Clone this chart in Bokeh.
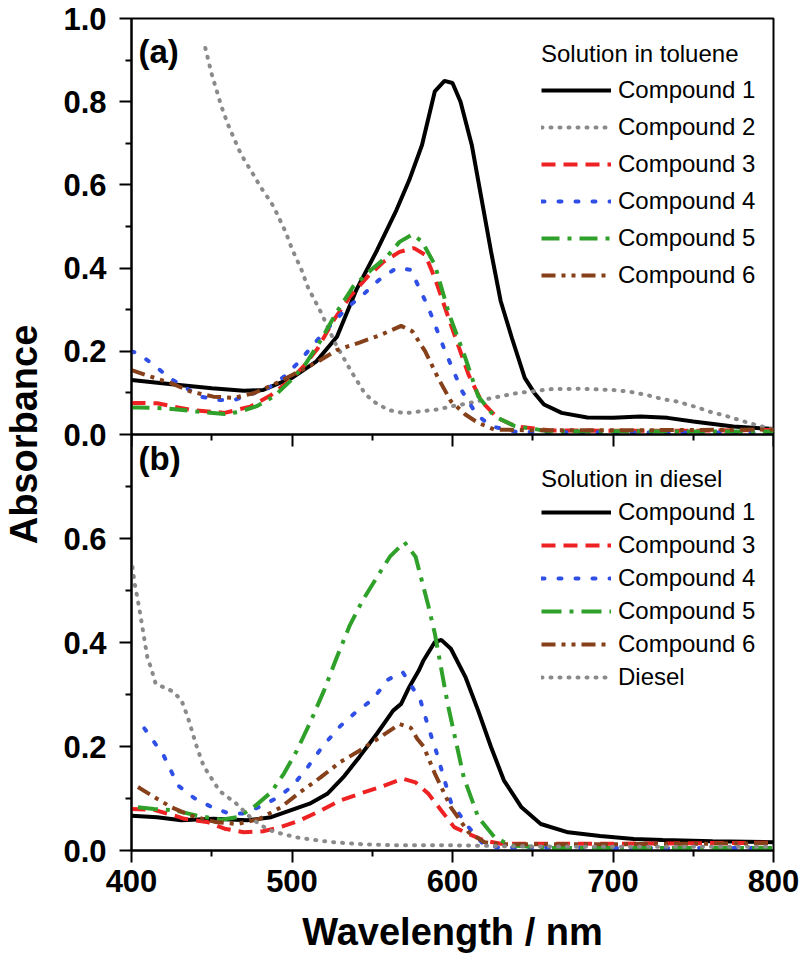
from bokeh.plotting import figure
from bokeh.models import (Range1d, LinearAxis, FixedTicker, CustomJSTickFormatter, Span, Label,
                          Legend, LegendItem)
from bokeh.embed import file_html
from bokeh.resources import INLINE

# ---------------- data: panel (a), solution in toluene ----------------
tol_c1_wl = [400, 425, 450, 470, 482, 500, 515, 528, 540, 553, 565, 573, 581, 589, 595, 600, 605, 612,
             618, 624, 630, 637, 645, 651, 657, 668, 684, 700, 717, 734, 750, 775, 800]
tol_c1 = [0.131, 0.121, 0.111, 0.105, 0.107, 0.136, 0.175, 0.235, 0.347, 0.443, 0.539, 0.611, 0.696, 0.825,
          0.850, 0.845, 0.800, 0.696, 0.568, 0.440, 0.321, 0.232, 0.136, 0.100, 0.072, 0.052, 0.041, 0.040,
          0.043, 0.040, 0.031, 0.019, 0.013]

tol_c2_wl = [446, 450, 456, 460, 467, 470, 477, 480, 487, 490, 496, 500, 506, 510, 518, 527, 537, 545, 550,
             560, 570, 581, 590, 600, 611, 620, 630, 641, 651, 660, 681, 700, 710, 721, 731, 740, 751, 760,
             771, 781, 791, 800]
tol_c2 = [0.929, 0.866, 0.789, 0.746, 0.684, 0.662, 0.618, 0.597, 0.558, 0.536, 0.487, 0.446, 0.395, 0.353,
          0.294, 0.219, 0.151, 0.101, 0.081, 0.059, 0.051, 0.056, 0.060, 0.068, 0.076, 0.084, 0.092, 0.100,
          0.104, 0.109, 0.110, 0.107, 0.103, 0.095, 0.085, 0.079, 0.067, 0.055, 0.044, 0.032, 0.021, 0.012]

tol_c3_wl = [400, 416, 437, 458, 474, 487, 499, 507, 516, 526, 536, 547, 557, 567, 576, 583, 589, 599, 610,
             618, 628, 639, 660, 700, 750, 800]
tol_c3 = [0.076, 0.075, 0.059, 0.052, 0.067, 0.095, 0.131, 0.163, 0.207, 0.275, 0.331, 0.379, 0.415, 0.439,
          0.448, 0.432, 0.376, 0.264, 0.144, 0.080, 0.040, 0.020, 0.010, 0.009, 0.009, 0.011]

tol_c4_wl = [400, 404, 414, 424, 443, 454, 464, 485, 495, 504, 514, 525, 535, 544, 554, 565, 574, 585, 595,
             606, 615, 624, 640, 700, 800]
tol_c4 = [0.200, 0.195, 0.167, 0.135, 0.091, 0.083, 0.083, 0.111, 0.139, 0.173, 0.219, 0.267, 0.307, 0.335,
          0.371, 0.400, 0.396, 0.305, 0.204, 0.104, 0.048, 0.020, 0.006, 0.005, 0.005]

tol_c5_wl = [400, 404, 421, 441, 458, 468, 478, 489, 499, 508, 518, 528, 538, 549, 559, 567, 575, 581, 589,
             598, 608, 616, 626, 639, 660, 800]
tol_c5 = [0.065, 0.065, 0.063, 0.055, 0.049, 0.055, 0.068, 0.092, 0.129, 0.167, 0.227, 0.295, 0.355, 0.395,
          0.427, 0.463, 0.481, 0.464, 0.408, 0.288, 0.184, 0.092, 0.044, 0.020, 0.008, 0.007]

tol_c6_wl = [400, 412, 425, 437, 451, 464, 476, 489, 501, 516, 528, 542, 555, 568, 575, 583, 591, 599, 608,
             616, 626, 650, 700, 800]
tol_c6 = [0.155, 0.139, 0.123, 0.103, 0.091, 0.088, 0.099, 0.121, 0.145, 0.175, 0.203, 0.221, 0.239, 0.261,
          0.248, 0.200, 0.136, 0.080, 0.048, 0.028, 0.012, 0.010, 0.010, 0.012]

# ---------------- data: panel (b), solution in diesel ----------------
die_c1_wl = [400, 416, 431, 451, 472, 487, 499, 511, 522, 532, 542, 553, 563, 568, 573, 579, 582, 589, 593,
             599, 608, 616, 624, 632, 643, 655, 672, 692, 713, 731, 762, 800]
die_c1 = [0.067, 0.064, 0.058, 0.061, 0.058, 0.064, 0.077, 0.090, 0.109, 0.141, 0.180, 0.225, 0.269, 0.282,
          0.314, 0.346, 0.366, 0.401, 0.405, 0.388, 0.334, 0.269, 0.199, 0.135, 0.083, 0.051, 0.035, 0.028,
          0.022, 0.020, 0.018, 0.016]

die_c3_wl = [400, 414, 427, 433, 447, 458, 470, 482, 493, 505, 518, 530, 542, 555, 569, 577, 585, 593, 601,
             610, 620, 630, 700, 800]
die_c3 = [0.080, 0.078, 0.067, 0.061, 0.055, 0.042, 0.035, 0.037, 0.045, 0.058, 0.077, 0.096, 0.109, 0.122,
          0.138, 0.131, 0.109, 0.077, 0.045, 0.032, 0.019, 0.013, 0.013, 0.015]

die_c4_wl = [408, 420, 429, 439, 449, 460, 469, 479, 490, 500, 509, 519, 530, 539, 550, 560, 569, 580, 585,
             590, 599, 610, 619, 628, 700, 800]
die_c4 = [0.235, 0.183, 0.125, 0.101, 0.085, 0.072, 0.071, 0.083, 0.100, 0.123, 0.157, 0.200, 0.239, 0.264,
          0.290, 0.329, 0.343, 0.289, 0.237, 0.189, 0.093, 0.045, 0.013, 0.006, 0.005, 0.005]

die_c5_wl = [404, 414, 427, 441, 456, 466, 476, 487, 495, 503, 511, 520, 528, 536, 544, 553, 561, 570, 577,
             585, 589, 597, 607, 616, 626, 636, 660, 800]
die_c5 = [0.083, 0.080, 0.077, 0.067, 0.059, 0.064, 0.083, 0.112, 0.148, 0.192, 0.244, 0.308, 0.372, 0.433,
          0.481, 0.526, 0.565, 0.593, 0.565, 0.470, 0.417, 0.282, 0.141, 0.064, 0.026, 0.010, 0.005, 0.005]

die_c6_wl = [404, 414, 425, 437, 452, 466, 480, 493, 505, 518, 530, 542, 555, 567, 574, 578, 582, 589, 599,
             610, 620, 630, 700, 800]
die_c6 = [0.122, 0.103, 0.083, 0.067, 0.055, 0.051, 0.061, 0.083, 0.112, 0.141, 0.170, 0.192, 0.218, 0.243,
          0.236, 0.215, 0.200, 0.148, 0.083, 0.035, 0.016, 0.012, 0.012, 0.014]

die_diesel_wl = [400.6, 402, 403, 405, 410, 412, 415, 425, 431, 435, 441, 445, 455, 465, 475, 485, 495, 505,
                 525, 544, 565, 600, 640, 700, 800]
die_diesel = [0.545, 0.513, 0.497, 0.463, 0.369, 0.353, 0.321, 0.307, 0.290, 0.257, 0.196, 0.162, 0.114,
              0.091, 0.061, 0.040, 0.031, 0.024, 0.016, 0.012, 0.010, 0.010, 0.008, 0.007, 0.007]

x_ticks = [400, 500, 600, 700, 800]
x_minor = [450, 550, 650, 750]
ya_ticks = [0.0, 0.2, 0.4, 0.6, 0.8, 1.0]
ya_minor = [0.1, 0.3, 0.5, 0.7, 0.9]
yb_ticks = [0.0, 0.2, 0.4, 0.6]
yb_minor = [0.1, 0.3, 0.5, 0.7]

# ---------------- panel scales ----------------
A_LO, A_HI = -1.0, 1.0          # panel (a) occupies [0, 1] of this range (upper half of the frame)
B_LO, B_HI = 0.0, 1.6           # panel (b) occupies [0, 0.8] of this range (lower half of the frame)
K = (A_HI - A_LO) / (B_HI - B_LO)


def b_to_a(v):
    return A_LO + (v - B_LO) * K


# ---------------- styles ----------------
FONT = "Liberation Sans"
BLACK = "#000000"
GRAY = "#8a8a8a"
RED = "#ee2222"
BLUE = "#2f4fe6"
GREEN = "#2fa12a"
BROWN = "#86401a"
LW = 4

p = figure(width=800, height=965, output_backend="svg", toolbar_location=None,
           x_range=Range1d(400, 800), y_range=Range1d(A_LO, A_HI),
           min_border_left=128, min_border_right=27, min_border_top=18, min_border_bottom=115)
p.extra_y_ranges = {"b": Range1d(B_LO, B_HI)}
p.grid.visible = False
p.outline_line_color = "black"
p.outline_line_width = 2
p.background_fill_color = "white"


def style_axis(ax):
    ax.major_tick_in = 0
    ax.major_tick_out = 12
    ax.minor_tick_in = 0
    ax.minor_tick_out = 6
    ax.major_tick_line_width = 2
    ax.minor_tick_line_width = 2
    ax.axis_line_width = 2
    ax.major_label_text_font = FONT
    ax.major_label_text_font_size = "31px"
    ax.major_label_text_font_style = "bold"
    ax.major_label_text_color = "black"
    ax.axis_label_text_font = FONT
    ax.axis_label_text_font_size = "38px"
    ax.axis_label_text_font_style = "bold"
    ax.axis_label_text_color = "black"


# main x axis
xa = p.xaxis[0]
xa.ticker = FixedTicker(ticks=x_ticks, minor_ticks=x_minor)
style_axis(xa)
xa.major_label_standoff = 7
xa.axis_label = "Wavelength / nm"
xa.axis_label_standoff = 16

# divider axis (bottom of panel a): ticks only
xmid = LinearAxis(fixed_location=0.0, ticker=FixedTicker(ticks=x_ticks, minor_ticks=x_minor),
                  formatter=CustomJSTickFormatter(code="return ''"))
style_axis(xmid)
p.add_layout(xmid, "below")

# shared y axis: ticks of both panels, labels in each panel's own units
ya = p.yaxis[0]
ya.ticker = FixedTicker(ticks=ya_ticks + [b_to_a(v) for v in yb_ticks],
                        minor_ticks=ya_minor + [b_to_a(v) for v in yb_minor])
ya.formatter = CustomJSTickFormatter(args=dict(lo=A_LO, k=K, blo=B_LO),
                                     code="const v = tick >= 0 ? tick : blo + (tick - lo) / k;"
                                          "return Math.abs(v).toFixed(1);")
style_axis(ya)
ya.major_label_standoff = 13
ya.axis_label = "Absorbance"
ya.axis_label_standoff = 15

p.add_layout(Span(location=0.0, dimension="width", line_color="black", line_width=2))

# ---------------- panel (a) curves ----------------
ra1 = p.line(tol_c1_wl, tol_c1, line_color=BLACK, line_width=LW)
ra2 = p.line(tol_c2_wl, tol_c2, line_color=GRAY, line_width=LW, line_dash="1 8", line_cap="round")
ra3 = p.line(tol_c3_wl, tol_c3, line_color=RED, line_width=LW, line_dash="14 8")
ra4 = p.line(tol_c4_wl, tol_c4, line_color=BLUE, line_width=LW, line_dash="3 14", line_cap="round")
ra5 = p.line(tol_c5_wl, tol_c5, line_color=GREEN, line_width=LW, line_dash="18 8 4 8")
ra6 = p.line(tol_c6_wl, tol_c6, line_color=BROWN, line_width=LW, line_dash="14 6 4 6 4 6")

# ---------------- panel (b) curves ----------------
rb1 = p.line(die_c1_wl, die_c1, line_color=BLACK, line_width=LW, y_range_name="b")
rb3 = p.line(die_c3_wl, die_c3, line_color=RED, line_width=LW, line_dash="14 8", y_range_name="b")
rb4 = p.line(die_c4_wl, die_c4, line_color=BLUE, line_width=LW, line_dash="3 14", line_cap="round",
             y_range_name="b")
rb5 = p.line(die_c5_wl, die_c5, line_color=GREEN, line_width=LW, line_dash="20 8 4 8", y_range_name="b")
rb6 = p.line(die_c6_wl, die_c6, line_color=BROWN, line_width=LW, line_dash="14 6 4 6 4 6",
             y_range_name="b")
rb7 = p.line(die_diesel_wl, die_diesel, line_color=GRAY, line_width=LW, line_dash="1 8", line_cap="round",
             y_range_name="b")


def make_legend(items, title, loc, spacing, standoff):
    return Legend(items=items, location=loc, title=title,
                  glyph_width=70, glyph_height=30, label_height=30, label_standoff=7,
                  spacing=spacing, padding=0, margin=0, title_standoff=standoff,
                  border_line_color=None, background_fill_alpha=0,
                  label_text_font=FONT, label_text_font_size="24px", label_text_color="black",
                  title_text_font=FONT, title_text_font_size="24px", title_text_font_style="normal",
                  title_text_color="black")


leg_a = make_legend([LegendItem(label="Compound 1", renderers=[ra1]),
                     LegendItem(label="Compound 2", renderers=[ra2]),
                     LegendItem(label="Compound 3", renderers=[ra3]),
                     LegendItem(label="Compound 4", renderers=[ra4]),
                     LegendItem(label="Compound 5", renderers=[ra5]),
                     LegendItem(label="Compound 6", renderers=[ra6])],
                    "Solution in toluene", (410, 560), 7, 7)
leg_b = make_legend([LegendItem(label="Compound 1", renderers=[rb1]),
                     LegendItem(label="Compound 3", renderers=[rb3]),
                     LegendItem(label="Compound 4", renderers=[rb4]),
                     LegendItem(label="Compound 5", renderers=[rb5]),
                     LegendItem(label="Compound 6", renderers=[rb6]),
                     LegendItem(label="Diesel", renderers=[rb7])],
                    "Solution in diesel", (410, 158), 3, 4)
p.add_layout(leg_a, "center")
p.add_layout(leg_b, "center")

# panel tags
p.add_layout(Label(x=400, y=A_HI, x_offset=7, y_offset=-14, text="(a)", text_font=FONT,
                   text_font_size="33px", text_font_style="bold", text_baseline="top",
                   text_color="black"))
p.add_layout(Label(x=400, y=0.0, x_offset=7, y_offset=-5, text="(b)", text_font=FONT,
                   text_font_size="33px", text_font_style="bold", text_baseline="top",
                   text_color="black"))

open("out.html", "w").write(file_html(p, INLINE))
